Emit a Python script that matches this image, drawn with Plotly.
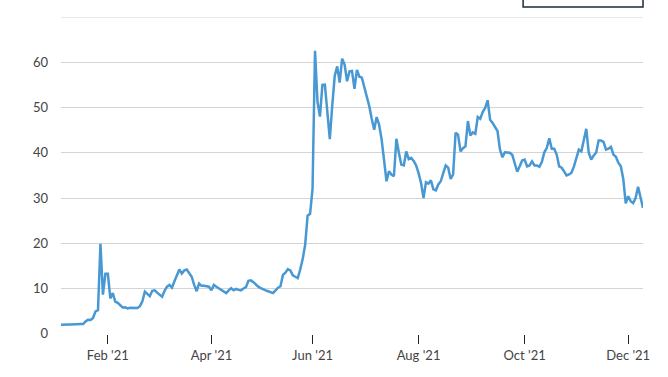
import pandas as pd
import plotly.graph_objects as go

# NYSE holidays in the span (non-trading weekdays)
holidays = ["2021-01-18", "2021-02-15", "2021-04-02", "2021-05-31",
            "2021-07-05", "2021-09-06", "2021-11-25"]
all_days = pd.bdate_range("2021-01-04", "2021-12-09")
dates = [d.strftime("%Y-%m-%d") for d in all_days if d.strftime("%Y-%m-%d") not in holidays]

jan = [2.01, 1.98, 2.01, 2.05, 2.07, 2.12, 2.10, 2.22, 2.18, 2.15,
       2.75, 3.10, 3.05, 3.51, 4.96, 5.20, 19.90, 8.63, 13.26]
feb = [13.26, 7.82, 9.00, 7.10, 6.83, 6.20, 5.80, 5.85, 5.60, 5.75,
       5.70, 5.65, 5.70, 6.10, 7.20, 9.30, 8.90, 8.30, 9.50]
mar = [9.60, 9.10, 8.60, 8.20, 9.50, 10.40, 10.80, 10.20, 11.60, 13.00,
       14.20, 13.30, 14.00, 14.20, 13.50, 12.60, 10.80, 9.40, 11.10, 10.60,
       10.60, 10.50, 10.40]
apr = [9.60, 10.80, 10.40, 10.00, 9.60, 9.30, 9.00, 9.60, 10.10, 9.60,
       9.90, 9.70, 9.60, 10.00, 10.30, 11.70, 11.80, 11.40, 10.80, 10.40,
       10.10]
may = [9.80, 9.60, 9.40, 9.20, 9.00, 9.60, 10.20, 10.50, 13.00, 13.50,
       14.30, 14.00, 12.90, 12.60, 12.30, 14.20, 16.50, 19.60, 26.10, 26.50]
jun = [32.00, 62.55, 51.30, 48.00, 55.00, 55.05, 48.50, 43.00, 50.50, 57.00,
       59.10, 55.50, 60.80, 59.50, 55.80, 58.00, 58.10, 54.10, 58.30, 56.80,
       56.60, 54.50]
jul = [52.50, 50.30, 47.50, 45.10, 47.90, 46.20, 43.00, 38.50, 33.70, 35.90,
       35.20, 34.80, 43.10, 40.00, 37.40, 37.20, 40.30, 38.60, 38.90, 38.20,
       37.20]
aug = [35.50, 33.30, 30.00, 33.50, 33.20, 33.90, 31.90, 31.70, 33.00, 33.70,
       35.50, 37.20, 36.70, 34.20, 35.20, 44.40, 44.00, 40.30, 41.00, 41.40,
       47.00, 43.80]
sep = [44.50, 44.20, 47.90, 47.50, 49.00, 49.90, 51.60, 47.30, 46.60, 45.80,
       44.80, 40.70, 39.00, 40.10, 40.00, 40.00, 39.50, 37.40, 35.80, 37.00,
       38.30]
oct_ = [38.50, 37.00, 37.20, 38.10, 37.20, 37.20, 36.90, 38.00, 40.10, 41.10,
        43.20, 40.90, 40.90, 39.60, 37.00, 36.70, 35.90, 35.00, 35.20, 35.60,
        37.00]
nov = [39.00, 40.70, 40.30, 42.50, 45.30, 40.00, 38.50, 39.40, 40.00, 42.70,
       42.70, 42.40, 40.70, 40.90, 41.30, 39.60, 39.10, 37.80, 37.00, 34.20,
       28.80]
dec = [30.40, 29.30, 28.90, 30.00, 32.50, 30.40, 27.80]

prices = jan + feb + mar + apr + may + jun + jul + aug + sep + oct_ + nov + dec
n = min(len(prices), len(dates))
dates = dates[:n]
prices = prices[:n]

tick_dates = ["2021-02-01", "2021-04-01", "2021-06-01", "2021-08-02",
              "2021-10-01", "2021-12-01"]
tick_labels = ["Feb '21", "Apr '21", "Jun '21", "Aug '21", "Oct '21", "Dec '21"]
y_ticks = [0, 10, 20, 30, 40, 50, 60]
y_labels = ["0", "10", "20", "30", "40", "50", "60"]
y_top = 70

fig = go.Figure()
fig.add_trace(go.Scatter(
    x=dates, y=prices, mode="lines",
    line=dict(color="#4898d4", width=2.5),
    hoverinfo="x+y", showlegend=False,
))

fig.update_layout(
    width=668, height=377,
    margin=dict(l=61, r=25, t=17, b=43),
    paper_bgcolor="white", plot_bgcolor="white",
    font=dict(family="Lato, 'Open Sans', sans-serif", size=13, color="#444"),
    xaxis=dict(
        type="category", automargin=False,
        range=[0, n - 1],
        tickmode="array", tickvals=tick_dates, ticktext=tick_labels,
        ticks="outside", ticklen=9, tickcolor="#222", tickwidth=1,
        showgrid=False, showline=False, zeroline=False,
        tickfont=dict(size=13, color="#444"),
    ),
    yaxis=dict(
        automargin=False,
        range=[-0.05, y_top],
        tickmode="array", tickvals=y_ticks, ticktext=y_labels,
        showgrid=True, gridcolor="#d4d4d4", gridwidth=1,
        zeroline=False, showline=False,
        ticks="", ticklabelstandoff=12,
        tickfont=dict(size=13, color="#444"),
    ),
    shapes=[
        dict(type="line", xref="paper", yref="y", x0=0, x1=1, y0=y_top, y1=y_top,
             line=dict(color="#d4d4d4", width=1), layer="below"),
        dict(type="rect", xref="paper", yref="paper",
             x0=0.794, x1=1.0, y0=1.0315, y1=1.2,
             line=dict(color="#1b2a38", width=1.5), fillcolor="rgba(0,0,0,0)"),
    ],
)

fig.write_html("out.html", config={"displayModeBar": False},
               post_script="document.body.style.margin='0';")
